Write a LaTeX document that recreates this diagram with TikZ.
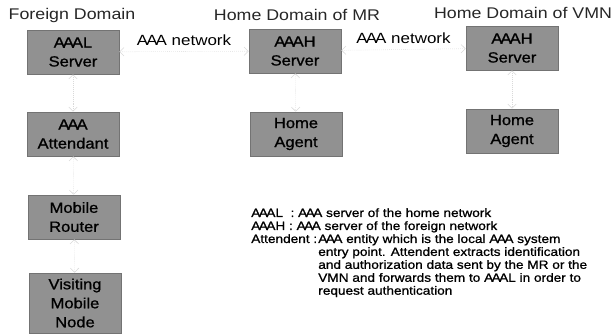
\documentclass[tikz,border=0pt]{standalone}
\usepackage{fontspec}
\setmainfont{Liberation Sans}
\newfontfamily\diagfont[FakeStretch=1.15]{Liberation Sans}
\newfontfamily\boxfont[FakeStretch=1.12, FakeBold=1]{Liberation Sans}
\newfontfamily\legfont[FakeStretch=1.14, FakeBold=1]{Liberation Sans}
\newcommand\tAAA{A\kern-.13em A\kern-.13em A}
\usetikzlibrary{arrows.meta}
\begin{document}
\begin{tikzpicture}[x=0.025cm, y=-0.025cm,
  font=\diagfont\fontsize{10.5}{13.5}\selectfont,
  box/.style={draw=black!55, fill=black!43, minimum width=2.3cm, minimum height=1.1cm, align=center, inner sep=1pt, font=\boxfont\fontsize{10.5}{13.5}\selectfont},
  title/.style={font=\diagfont\fontsize{11}{13}\selectfont, text=black!85},
  conn/.style={{Straight Barb[length=3pt]}-{Straight Barb[length=3pt]}, black!15, densely dotted},
  legend/.style={font=\legfont\fontsize{8.5}{9.2}\selectfont, anchor=north west, inner sep=0pt, align=left}]
\useasboundingbox (0,0) rectangle (615,335);
% domains
\node[title] (tfd) at (72,15) {Foreign Domain};
\node[title] (tmr) at (297,15) {Home Domain of MR};
\node[title] (tvmn) at (523,13) {Home Domain of VMN};
% foreign domain
\node[box] (aaal) at (73,52) {\tAAA L\\Server};
\node[box] (att) at (73,134) {\tAAA\\Attendant};
\node[box] (mr) at (74,217) {Mobile\\Router};
\node[box, minimum height=1.5cm] (vmn) at (75,303) {Visiting\\Mobile\\Node};
% home domain of MR
\node[box] (aaahmr) at (295,51) {\tAAA H\\Server};
\node[box] (hamr) at (296,134) {Home\\Agent};
% home domain of VMN
\node[box] (aaahvmn) at (512,48) {\tAAA H\\Server};
\node[box] (havmn) at (512,131) {Home\\Agent};
% links
\draw[conn] (aaal) -- (aaahmr) node[midway, above=0.5pt, text=black] {\tAAA\ network};
\draw[conn] (aaahmr) -- (aaahvmn) node[midway, above=0.5pt, text=black] {\tAAA\ network};
\draw[conn] (aaal) -- (att);
\draw[conn] (att) -- (mr);
\draw[conn] (mr) -- (vmn);
\draw[conn] (aaahmr) -- (hamr);
\draw[conn] (aaahvmn) -- (havmn);
% legend
\node[legend] (lgl) at (251,208) {\tAAA L\ \ : \tAAA\ server of the home network};
\node[legend] (lgh) at (251,221) {\tAAA H : \tAAA\ server of the foreign network};
\node[legend] (lgt) at (251,234) {Attendent :};
\node[legend] (lgtx) at (318,234) {\tAAA\ entity which is the local \tAAA\ system\\
  entry point. Attendent extracts identification\\
  and authorization data sent by the MR or the\\
  VMN and forwards them to \tAAA L in order to\\
  request authentication};
\end{tikzpicture}
\end{document}
